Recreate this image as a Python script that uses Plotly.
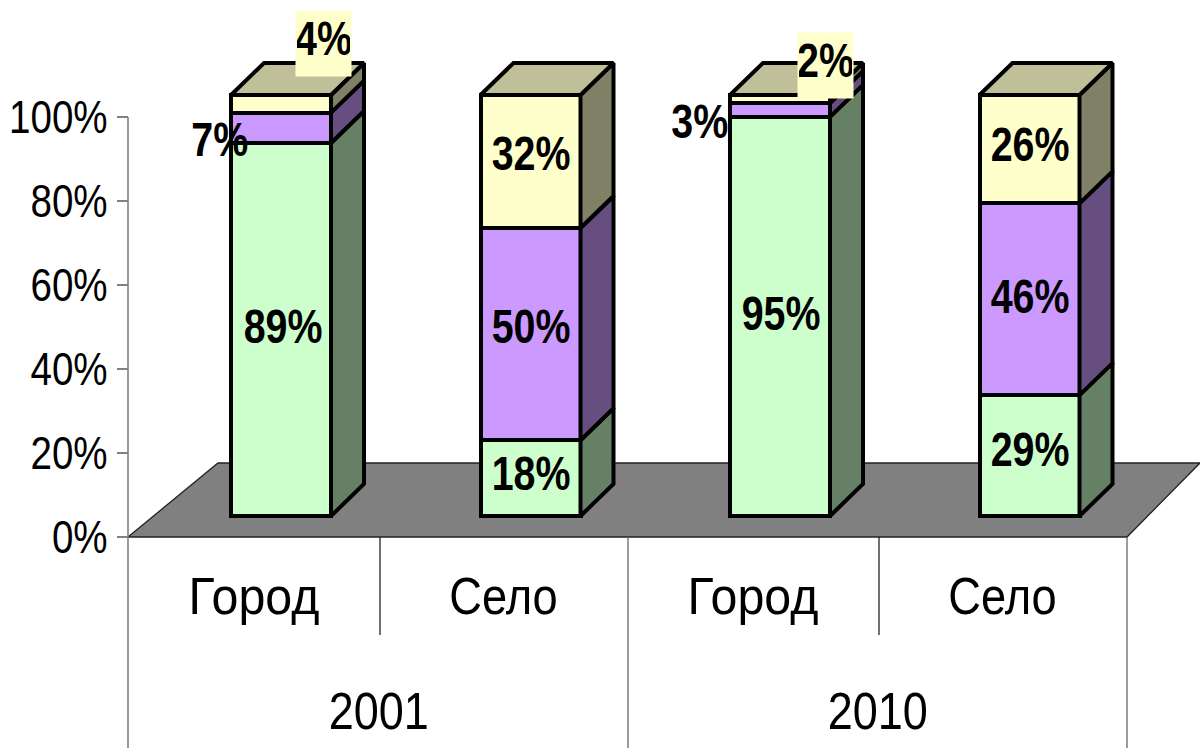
import plotly.graph_objects as go

categories = ["Город", "Село", "Город", "Село"]
years = ["2001", "2010"]
series_green = [88.6, 18, 94.8, 29]
series_purple = [7.2, 50.4, 3.3, 46]
series_yellow = [4.2, 31.6, 1.9, 26]
label_green = ["89%", "18%", "95%", "29%"]
label_purple = ["7%", "50%", "3%", "46%"]
label_yellow = ["4%", "32%", "2%", "26%"]
y_ticks = [0, 20, 40, 60, 80, 100]

W, H = 1200, 748
FONT = "Liberation Sans"
SIZE_TICK = 47
SIZE_CAT = 52
SIZE_LAB = 48
SLOT = 249.5
Y_ZERO_AXIS, Y_TOP_AXIS = 537, 117
BAR_ZERO_PX, BAR_SCALE = 516, 4.21
BAR_X0_PX = 281
SLOT_X0_PX = 254
BAR_W = 100 / SLOT
DX = 33 / SLOT
DY = 32 / BAR_SCALE
LW = 4

front = ["#CCFFCC", "#CC99FF", "#FFFFCC"]
side = ["#668066", "#664F80", "#808066"]
top_col = "#BFBF99"

fig = go.Figure()
xs = list(range(len(categories)))
series = [series_green, series_purple, series_yellow]

fig.add_trace(go.Scatter(x=[0, 1], y=[0, 100], xaxis="x", yaxis="y", mode="markers",
                         marker=dict(opacity=0), showlegend=False, hoverinfo="skip"))

for s, c in zip(series, front):
    fig.add_trace(go.Bar(x=xs, y=s, width=BAR_W, xaxis="x2", yaxis="y2",
                         marker=dict(color=c, line=dict(color="black", width=LW)),
                         showlegend=False, hoverinfo="skip"))

annotations = []
for i in xs:
    total = sum(s[i] for s in series)
    base = 0.0
    r = i + BAR_W / 2
    l = i - BAR_W / 2
    for s, c in zip(series, side):
        h = 100.0 * s[i] / total
        fig.add_trace(go.Scatter(
            x=[r, r + DX, r + DX, r, r], y=[base, base + DY, base + h + DY, base + h, base],
            xaxis="x2", yaxis="y2", mode="lines", fill="toself", fillcolor=c,
            line=dict(color="black", width=LW), showlegend=False, hoverinfo="skip", cliponaxis=False))
        base += h
    fig.add_trace(go.Scatter(
        x=[l, r, r + DX, l + DX, l], y=[100, 100, 100 + DY, 100 + DY, 100],
        xaxis="x2", yaxis="y2", mode="lines", fill="toself", fillcolor=top_col,
        line=dict(color="black", width=LW), showlegend=False, hoverinfo="skip", cliponaxis=False))

# label nudges in pixels (series index, bar index) -> (xshift, yshift)
nudge = {
    (0, 0): (2, 3), (0, 1): (0, 5), (0, 2): (1, 3), (0, 3): (0, 6),
    (1, 1): (0, 8), (1, 3): (0, 3),
    (2, 1): (0, 8), (2, 3): (0, 5),
    (1, 0): (-62, -12), (1, 2): (-81, -12),
    (2, 0): (42, 51.5), (2, 2): (45, 29.5),
}
for i in xs:
    total = sum(s[i] for s in series)
    g, p, y = [100.0 * s[i] / total for s in series]
    mids = [g / 2, g + p / 2, g + p + y / 2]
    labs = [label_green[i], label_purple[i], label_yellow[i]]
    for k, (m, t) in enumerate(zip(mids, labs)):
        dx, dy = nudge[(k, i)]
        common = dict(x=i, y=m, xref="x2", yref="y2", text=t, showarrow=False, xshift=dx, yshift=dy,
                      font=dict(family=FONT, size=SIZE_LAB, color="black", weight=700))
        if k == 2 and y < 10:
            common.update(y=100, bgcolor="#FFFFCC", width=53, height=63, valign="top")
        annotations.append(common)

for pos, yr in zip([0.5, 2.5], years):
    annotations.append(dict(x=pos, y=(H - 711) / H, xref="x", yref="paper", yanchor="middle",
                            text=yr, showarrow=False,
                            font=dict(family=FONT, size=SIZE_CAT, color="black")))


def poly(pts, **kw):
    path = "M " + " L ".join(f"{a/W:.5f},{(H-b)/H:.5f}" for a, b in pts) + " Z"
    return dict(type="path", path=path, xref="paper", yref="paper", layer="below", **kw)


def vline(px, y0, y1, color, width=1.3):
    return dict(type="line", xref="paper", yref="paper", x0=px / W, x1=px / W,
                y0=(H - y0) / H, y1=(H - y1) / H, line=dict(color=color, width=width), layer="below")


shapes = [
    poly([(128, 537), (218, 463), (1200, 463), (1127, 537)],
         fillcolor="#808080", line=dict(color="#222222", width=1.3)),
    vline(128, 117, 748, "#808080", 1.6),
    vline(628, 537, 748, "#666666"),
    vline(1127, 537, 748, "#666666"),
    vline(380, 537, 635, "#222222"),
    vline(879, 537, 635, "#222222"),
]

fig.update_layout(
    width=W, height=H, margin=dict(l=0, r=0, t=0, b=0, pad=0), autosize=False,
    paper_bgcolor="white", plot_bgcolor="rgba(0,0,0,0)",
    barmode="stack", barnorm="percent",
    shapes=shapes, annotations=annotations,
    xaxis=dict(domain=[0, 1], range=[(0 - SLOT_X0_PX) / SLOT, (W - SLOT_X0_PX) / SLOT],
               anchor="y", tickmode="array", tickvals=xs, ticktext=categories, ticks="",
               ticklabelstandoff=24, showgrid=False, zeroline=False, showline=False, automargin=False,
               tickfont=dict(family=FONT, size=SIZE_CAT, color="black")),
    yaxis=dict(domain=[(H - Y_ZERO_AXIS) / H, (H - Y_TOP_AXIS) / H], range=[0, 100],
               anchor="free", position=128 / W, tickmode="array", tickvals=y_ticks,
               ticktext=[f"{v}%" for v in y_ticks], ticks="outside", ticklen=11, tickwidth=1.5,
               tickcolor="#808080", showgrid=False, zeroline=False, showline=False, automargin=False,
               tickfont=dict(family=FONT, size=SIZE_TICK, color="black")),
    xaxis2=dict(domain=[0, 1], range=[(0 - BAR_X0_PX) / SLOT, (W - BAR_X0_PX) / SLOT],
                anchor="y2", visible=False, automargin=False),
    yaxis2=dict(domain=[0, 1], range=[(BAR_ZERO_PX - H) / BAR_SCALE, BAR_ZERO_PX / BAR_SCALE],
                anchor="x2", visible=False, automargin=False),
)

# page without margin; the reference's type is a horizontally condensed sans
post = """
document.body.style.margin='0';
document.documentElement.style.overflow='hidden';
var squeeze={'Город':0.93,'Село':0.87,'2001':0.865,'2010':0.865};
document.querySelectorAll('.main-svg text').forEach(function(t){
  var n=t.getComputedTextLength();
  var f=squeeze[t.textContent]||0.82;
  if(n>0){t.setAttribute('textLength',n*f);t.setAttribute('lengthAdjust','spacingAndGlyphs');}
});
"""
fig.write_html("out.html", post_script=post, config=dict(displayModeBar=False))
